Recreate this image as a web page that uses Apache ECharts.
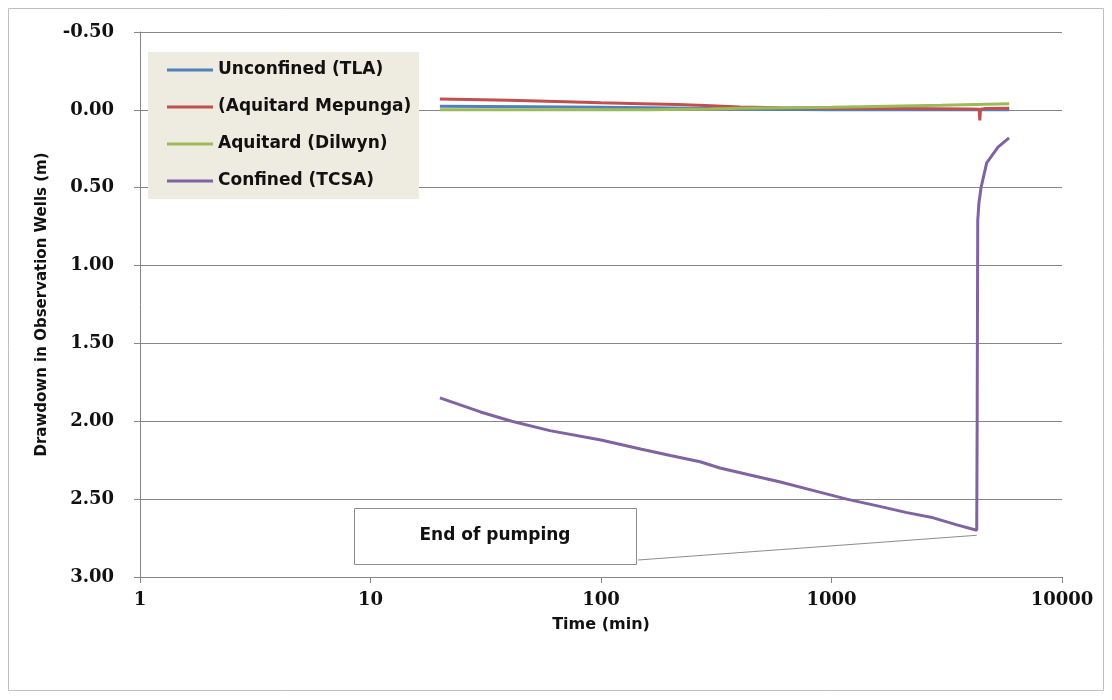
<!DOCTYPE html>
<html>
<head>
<meta charset="utf-8">
<title>Drawdown in Observation Wells</title>
<script src="https://cdn.jsdelivr.net/npm/echarts@6/dist/echarts.min.js"></script>
<style>
  html, body { margin: 0; padding: 0; background: #ffffff; }
  #chart { width: 1112px; height: 700px; }
</style>
</head>
<body>
<div id="chart"></div>
<script>
// Pumping test: drawdown (m) against elapsed time (min), log time axis.
const seriesNames = ['Unconfined (TLA)', '(Aquitard Mepunga)', 'Aquitard (Dilwyn)', 'Confined (TCSA)'];
const seriesColors = ['#4F81BD', '#C0504D', '#9BBB59', '#8064A2'];

const tlaTime = [20, 50, 100, 200, 400, 700, 1000, 2000, 4000, 5900];
const tlaDrawdown = [-0.023, -0.020, -0.017, -0.012, -0.006, -0.002, 0.0, 0.0, 0.0, 0.0];

const mepungaTime = [20, 40, 70, 100, 150, 215, 300, 400, 600, 1000, 2000, 4000, 4370, 4400, 4430, 4600, 5900];
const mepungaDrawdown = [-0.070, -0.062, -0.052, -0.045, -0.039, -0.034, -0.026, -0.019, -0.014, -0.011, -0.009, -0.006, -0.004, 0.068, -0.004, -0.008, -0.010];

const dilwynTime = [20, 100, 163, 300, 400, 1000, 1330, 3000, 5900];
const dilwynDrawdown = [0.0, 0.0, 0.0, -0.006, -0.010, -0.016, -0.020, -0.030, -0.040];

const tcsaTime = [20, 30, 41, 60, 100, 150, 200, 269, 328, 443, 600, 862, 1164, 1600, 2100, 2767, 3500, 4266,
                  4285, 4300, 4310, 4360, 4453, 4713, 5277, 5891];
const tcsaDrawdown = [1.85, 1.94, 2.00, 2.06, 2.12, 2.18, 2.22, 2.26, 2.30, 2.345, 2.39, 2.45, 2.50, 2.545, 2.585, 2.62, 2.665, 2.70,
                      2.00, 1.20, 0.71, 0.60, 0.50, 0.34, 0.24, 0.18];

const yTicks = { min: -0.5, max: 3.0, step: 0.5 };
const xRange = { min: 1, max: 10000 };
const endOfPumpingIndex = 17; // last sample before recovery starts

function pairs(t, v) { return t.map((x, i) => [x, v[i]]); }
const seriesData = [
  pairs(tlaTime, tlaDrawdown),
  pairs(mepungaTime, mepungaDrawdown),
  pairs(dilwynTime, dilwynDrawdown),
  pairs(tcsaTime, tcsaDrawdown)
];

const axisGrey = '#868686';
const labelFont = { fontFamily: 'DejaVu Serif', fontWeight: 'bold', fontSize: 18, color: '#111' };
const titleFont = { fontFamily: 'DejaVu Sans', fontWeight: 'bold', fontSize: 16, color: '#111' };

const chart = echarts.init(document.getElementById('chart'), null, { renderer: 'canvas' });

const option = {
  animation: false,
  backgroundColor: '#ffffff',
  grid: { left: 140, right: 50, top: 32, bottom: 123, containLabel: false },
  xAxis: {
    type: 'log',
    logBase: 10,
    min: xRange.min,
    max: xRange.max,
    name: 'Time (min)',
    nameLocation: 'middle',
    nameGap: 40,
    nameTextStyle: titleFont,
    axisLine: { show: true, onZero: false, lineStyle: { color: axisGrey, width: 1 } },
    axisTick: { show: true, inside: false, length: 6, lineStyle: { color: axisGrey } },
    axisLabel: Object.assign({ margin: 14, formatter: v => String(Math.round(v)) }, labelFont),
    splitLine: { show: false },
    minorTick: { show: false }
  },
  yAxis: {
    type: 'value',
    inverse: true,
    min: yTicks.min,
    max: yTicks.max,
    interval: yTicks.step,
    name: 'Drawdown in Observation Wells (m)',
    nameLocation: 'middle',
    nameGap: 90,
    nameRotate: 90,
    nameTextStyle: Object.assign({}, titleFont, { fontSize: 15 }),
    axisLine: { show: true, onZero: false, lineStyle: { color: axisGrey, width: 1 } },
    axisTick: { show: true, inside: false, length: 6, lineStyle: { color: axisGrey } },
    axisLabel: Object.assign({ margin: 26, formatter: v => v.toFixed(2) }, labelFont),
    splitLine: { show: true, lineStyle: { color: axisGrey, width: 1 } }
  },
  legend: {
    orient: 'vertical',
    left: 148,
    top: 52,
    padding: [8, 10, 8, 19],
    itemGap: 17,
    itemWidth: 46,
    itemHeight: 3,
    icon: 'rect',
    z: 10,
    textStyle: { fontFamily: 'DejaVu Sans', fontWeight: 'bold', fontSize: 17, color: '#111', lineHeight: 20, padding: [0, 0, 0, 0] },
    data: seriesNames
  },
  series: seriesNames.map((name, i) => ({
    name: name,
    type: 'line',
    data: seriesData[i],
    showSymbol: false,
    symbol: 'none',
    smooth: false,
    color: seriesColors[i],
    lineStyle: { color: seriesColors[i], width: 3 },
    z: 2 + i
  }))
};

chart.setOption(option);

// Legend panel, outer frame and the "End of pumping" callout
const endPt = chart.convertToPixel({ gridIndex: 0 }, [tcsaTime[endOfPumpingIndex], tcsaDrawdown[endOfPumpingIndex]]);
const boxRect = { x: 354, y: 508, width: 282, height: 56 };

chart.setOption({
  graphic: [
    {
      type: 'rect', z: 8,
      shape: { x: 148, y: 52, width: 271, height: 147 },
      style: { fill: '#EEECE1', stroke: null }
    },
    {
      type: 'rect', z: 1, silent: true,
      shape: { x: 8.5, y: 8.5, width: 1095, height: 682 },
      style: { fill: null, stroke: '#BFBFBF', lineWidth: 1 }
    },
    {
      type: 'line', z: 9,
      shape: { x1: boxRect.x + boxRect.width + 2, y1: boxRect.y + boxRect.height - 4, x2: endPt[0], y2: endPt[1] + 5 },
      style: { stroke: '#8C8C8C', lineWidth: 1 }
    },
    {
      type: 'rect', z: 9,
      shape: { x: boxRect.x + 0.5, y: boxRect.y + 0.5, width: boxRect.width, height: boxRect.height },
      style: { fill: '#ffffff', stroke: '#8C8C8C', lineWidth: 1 }
    },
    {
      type: 'text', z: 10,
      x: boxRect.x + boxRect.width / 2, y: boxRect.y + boxRect.height / 2,
      style: {
        text: 'End of pumping',
        fontFamily: 'DejaVu Sans', fontWeight: 'bold', fontSize: 17, fill: '#111',
        align: 'center', verticalAlign: 'middle'
      }
    }
  ]
});
</script>
</body>
</html>
